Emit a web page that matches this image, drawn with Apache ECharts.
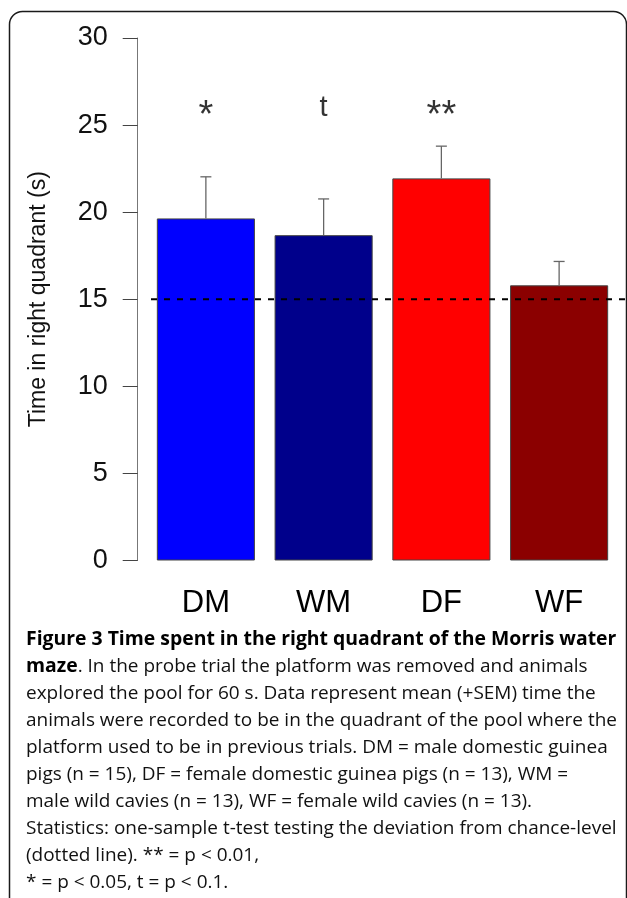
<!DOCTYPE html>
<html>
<head>
<meta charset="utf-8">
<script src="https://cdn.jsdelivr.net/npm/echarts@6/dist/echarts.min.js"></script>
<style>
html,body{margin:0;padding:0;background:#fff;}
#chart{width:627px;height:898px;}
</style>
</head>
<body>
<div id="chart"></div>
<script>
// ---- data ----
const categories = ['DM', 'WM', 'DF', 'WF'];
const meanValues = [19.64, 18.68, 21.94, 15.80];
const semValues = [2.39, 2.08, 1.85, 1.37];
const barColors = ['#0000FF', '#00008B', '#FF0000', '#8B0000'];
const sigLabels = ['*', 't', '**', ''];
const chanceLevel = 15;
const yTicks = [0, 5, 10, 15, 20, 25, 30];
const captionLines = [
  '{b|Figure 3 Time spent in the right quadrant of the Morris water}',
  '{b|maze}. In the probe trial the platform was removed and animals',
  'explored the pool for 60 s. Data represent mean (+SEM) time the',
  'animals were recorded to be in the quadrant of the pool where the',
  'platform used to be in previous trials. DM = male domestic guinea',
  'pigs (n = 15), DF = female domestic guinea pigs (n = 13), WM =',
  'male wild cavies (n = 13), WF = female wild cavies (n = 13).',
  'Statistics: one-sample t-test testing the deviation from chance-level',
  '(dotted line). ** = p < 0.01,',
  '* = p < 0.05, t = p < 0.1.'
];

// ---- layout helpers ----
const capFont = '"Open Sans", "Noto Sans", sans-serif';
const capSize = 19;
const mctx = document.createElement('canvas').getContext('2d');
mctx.font = capSize + 'px ' + capFont;
const regW = mctx.measureText(captionLines[3]).width;
const capScale = 591 / regW;
mctx.font = 'bold ' + capSize + 'px ' + capFont;
const boldW = mctx.measureText('Figure 3 Time spent in the right quadrant of the Morris water').width;
const boldSize = capSize * (591 / capScale) / boldW;

const chart = echarts.init(document.getElementById('chart'), null, {renderer: 'canvas'});

const graphics = [{
  type: 'rect',
  shape: {x: 9.5, y: 11.5, width: 617, height: 920, r: 13},
  style: {fill: 'none', stroke: '#1a1a1a', lineWidth: 1.5},
  silent: true, z: 0
}];
captionLines.forEach((line, k) => {
  graphics.push({
    type: 'text',
    x: 26,
    y: 639 + 27.1 * k,
    scaleX: capScale,
    style: {
      text: line,
      font: capSize + 'px ' + capFont,
      fill: '#111',
      textVerticalAlign: 'middle',
      textAlign: 'left',
      rich: {b: {fontWeight: 'bold', fontSize: boldSize, fontFamily: capFont, fill: '#000'}}
    },
    silent: true
  });
});

const option = {
  animation: false,
  backgroundColor: '#fff',
  grid: [
    {left: 147, right: 9, top: 38, bottom: 337.5},
    {left: 151, right: 0, top: 38, bottom: 337.5}
  ],
  xAxis: [{
    type: 'category',
    gridIndex: 0,
    data: categories,
    axisLine: {show: false},
    axisTick: {show: false},
    axisLabel: {fontSize: 31, fontFamily: '"Liberation Sans", Arial, sans-serif', color: '#000', margin: 27}
  }, {
    type: 'value', gridIndex: 1, min: 0, max: 1, show: false
  }],
  yAxis: [{
    type: 'value',
    gridIndex: 0,
    min: yTicks[0],
    max: yTicks[yTicks.length - 1],
    interval: 5,
    offset: 9.3,
    name: 'Time in right quadrant (s)',
    nameLocation: 'middle',
    nameGap: 88,
    nameRotate: 90,
    nameTextStyle: {fontSize: 23, fontFamily: '"Liberation Sans", Arial, sans-serif', color: '#111'},
    axisLine: {show: true, lineStyle: {color: '#777', width: 1}},
    axisTick: {show: true, length: 15, lineStyle: {color: '#444', width: 1}},
    axisLabel: {fontSize: 27, fontFamily: '"Liberation Sans", Arial, sans-serif', color: '#111', margin: 30},
    splitLine: {show: false}
  }, {
    type: 'value', gridIndex: 1, min: yTicks[0], max: yTicks[yTicks.length - 1], show: false
  }],
  series: [{
    type: 'bar',
    xAxisIndex: 0, yAxisIndex: 0,
    barWidth: '83.3%',
    data: meanValues.map((v, i) => ({value: v, itemStyle: {color: barColors[i], borderColor: '#444', borderWidth: 1}})),
    z: 2
  }, {
    type: 'custom',
    xAxisIndex: 0, yAxisIndex: 0,
    data: meanValues.map((v, i) => [i, v, v + semValues[i]]),
    renderItem: function (params, api) {
      const lo = api.coord([api.value(0), api.value(1)]);
      const hi = api.coord([api.value(0), api.value(2)]);
      const cap = 5.5;
      return {
        type: 'group',
        children: [{
          type: 'line',
          shape: {x1: lo[0], y1: lo[1], x2: hi[0], y2: hi[1]},
          style: {stroke: '#666', lineWidth: 1.3}
        }, {
          type: 'line',
          shape: {x1: hi[0] - cap, y1: hi[1], x2: hi[0] + cap, y2: hi[1]},
          style: {stroke: '#666', lineWidth: 1.3}
        }]
      };
    },
    z: 3
  }, {
    type: 'scatter',
    xAxisIndex: 0, yAxisIndex: 0,
    symbolSize: 0,
    data: sigLabels.map((s, i) => {
      const star = s.indexOf('*') >= 0;
      return {
        value: [i, 26],
        label: star ? {fontSize: 38, offset: [0, 9]} : {fontSize: 29, offset: [0, 0]}
      };
    }),
    label: {
      show: true,
      position: 'inside',
      formatter: p => sigLabels[p.dataIndex],
      fontFamily: '"Liberation Sans", Arial, sans-serif',
      color: '#000'
    },
    silent: true,
    z: 4
  }, {
    type: 'line',
    xAxisIndex: 1, yAxisIndex: 1,
    data: [[0, chanceLevel], [1, chanceLevel]],
    symbol: 'none',
    lineStyle: {color: '#000', width: 2, type: [6, 7]},
    silent: true,
    z: 5
  }],
  graphic: graphics
};
chart.setOption(option);
</script>
</body>
</html>
